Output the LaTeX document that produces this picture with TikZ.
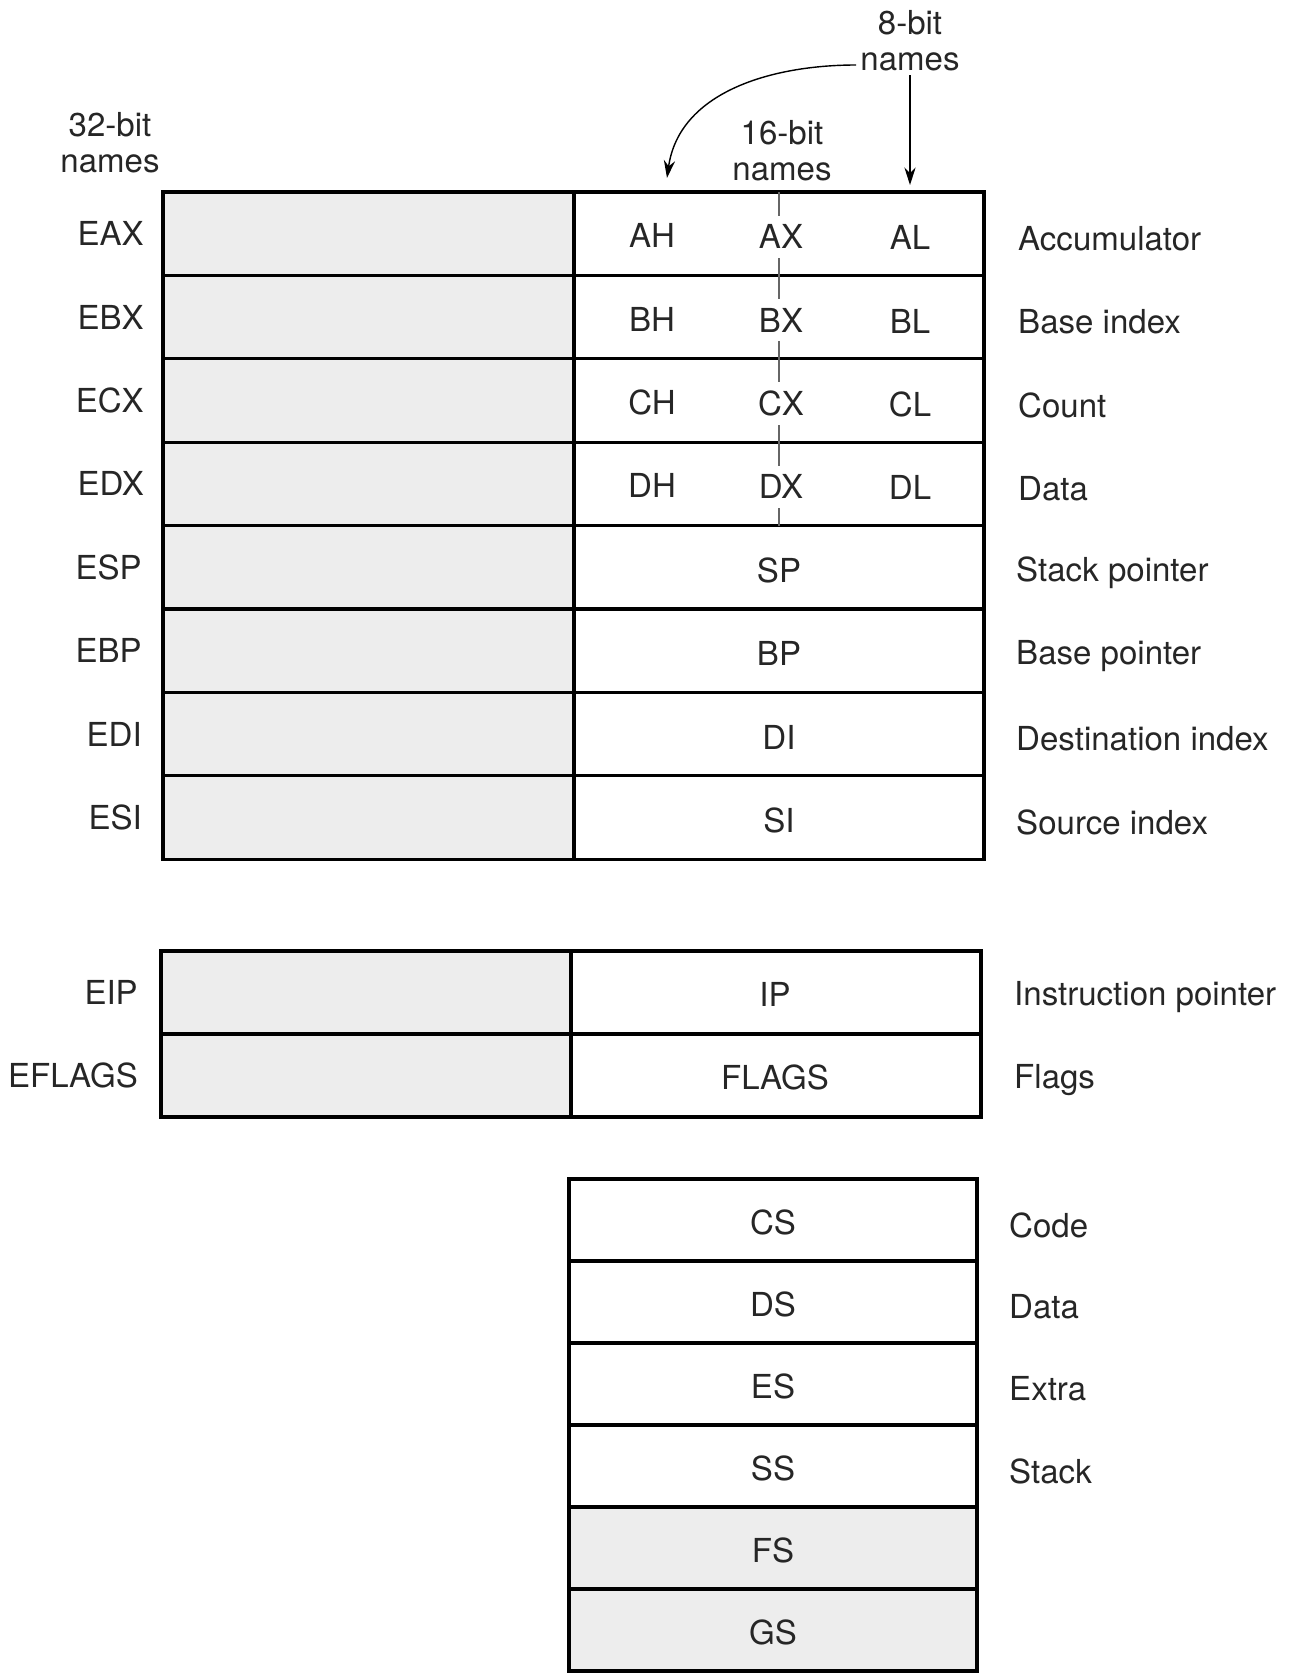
\documentclass[tikz,border=0pt]{standalone}
\usepackage{fontspec}
\setmainfont{TeX Gyre Heros}
\usetikzlibrary{arrows.meta,positioning}

\tikzset{
  regline/.style={line width=0.9pt},
  hiword/.style={fill=black!7},
  regtext/.style={font=\fontsize{9.4}{10.2}\selectfont, text=black!85, inner sep=1pt},
  midtext/.style={regtext, fill=white, inner ysep=2.6pt},
  headtext/.style={regtext, align=center},
  namearrow/.style={thin, -{Stealth[length=5pt,width=3.2pt]}},
}

\begin{document}
\begin{tikzpicture}[x=0.1mm,y=-0.1mm]
\useasboundingbox (0,0) rectangle (1296,1673);
\def\RowH{83.4}

    % general purpose registers, high word shaded
    \fill[hiword] (163,192) rectangle (574,859);
    \foreach \i in {0,...,7} {
        \draw[regline] (163,{192+\i*\RowH}) rectangle (984,{192+(\i+1)*\RowH});
    }
    \draw[regline] (574,192) -- (574,859);
    % split between the two byte halves
    \draw[black!60, line width=0.5pt] (779,192) -- (779,{192+4*\RowH});

    \foreach \reg/\hib/\word/\lob/\role [count=\i from 0] in
        {EAX/AH/AX/AL/Accumulator, EBX/BH/BX/BL/Base index,
         ECX/CH/CX/CL/Count, EDX/DH/DX/DL/Data} {
        \pgfmathsetmacro\ym{192+(\i+0.5)*\RowH}
        \node[regtext, anchor=east] (\reg) at (148,\ym) {\reg};
        \node[regtext] (\hib) at (652,{\ym+2}) {\hib};
        \node[midtext] (\word) at (781,{\ym+3}) {\word};
        \node[regtext] (\lob) at (910,{\ym+4}) {\lob};
        \node[regtext, anchor=west] (\reg role) at (1014,{\ym+5}) {\role};
    }
    \foreach \reg/\word/\role [count=\i from 4] in
        {ESP/SP/Stack pointer, EBP/BP/Base pointer,
         EDI/DI/Destination index, ESI/SI/Source index} {
        \pgfmathsetmacro\ym{192+(\i+0.5)*\RowH}
        \node[regtext, anchor=east] (\reg) at (146,\ym) {\reg};
        \node[regtext] (\word) at (779,{\ym+3}) {\word};
        \node[regtext, anchor=west] (\reg role) at (1012,{\ym+5}) {\role};
    }

    % instruction pointer and flags
    \fill[hiword] (161,951) rectangle (571,1117);
    \draw[regline] (161,951) rectangle (981,1034);
    \draw[regline] (161,1034) rectangle (981,1117);
    \draw[regline] (571,951) -- (571,1117);
    \foreach \reg/\word/\role [count=\i from 0] in
        {EIP/IP/Instruction pointer, EFLAGS/FLAGS/Flags} {
        \pgfmathsetmacro\ym{951+(\i+0.5)*83}
        \node[regtext, anchor=east] (\reg) at (142,\ym) {\reg};
        \node[regtext] (\word) at (775,{\ym+2}) {\word};
        \node[regtext, anchor=west] (\reg role) at (1010,{\ym+5}) {\role};
    }

    % segment registers, FS and GS shaded
    \fill[hiword] (569,{1179+4*82}) rectangle (977,{1179+6*82});
    \foreach \i in {0,...,5} {
        \draw[regline] (569,{1179+\i*82}) rectangle (977,{1179+(\i+1)*82});
    }
    \foreach \seg/\role [count=\i from 0] in
        {CS/Code, DS/Data, ES/Extra, SS/Stack, FS/, GS/} {
        \pgfmathsetmacro\ym{1179+(\i+0.5)*82}
        \node[regtext] (\seg) at (773,{\ym+2}) {\seg};
        \node[regtext, anchor=west] (\seg role) at (1005,{\ym+5}) {\role};
    }

    % column headings
    \node[headtext] (bit32) at (110,143) {32-bit\\names};
    \node[headtext] (bit16) at (782,151) {16-bit\\names};
    \node[headtext] (bit8) at (910,41) {8-bit\\names};
    \coordinate (ahtop) at (667,178);
    \coordinate (altop) at (910,185);
    \draw[namearrow] ([yshift=-2.4mm]bit8.west) to[out=180,in=82] (ahtop);
    \draw[namearrow] (bit8.south) -- (altop);
\end{tikzpicture}
\end{document}
